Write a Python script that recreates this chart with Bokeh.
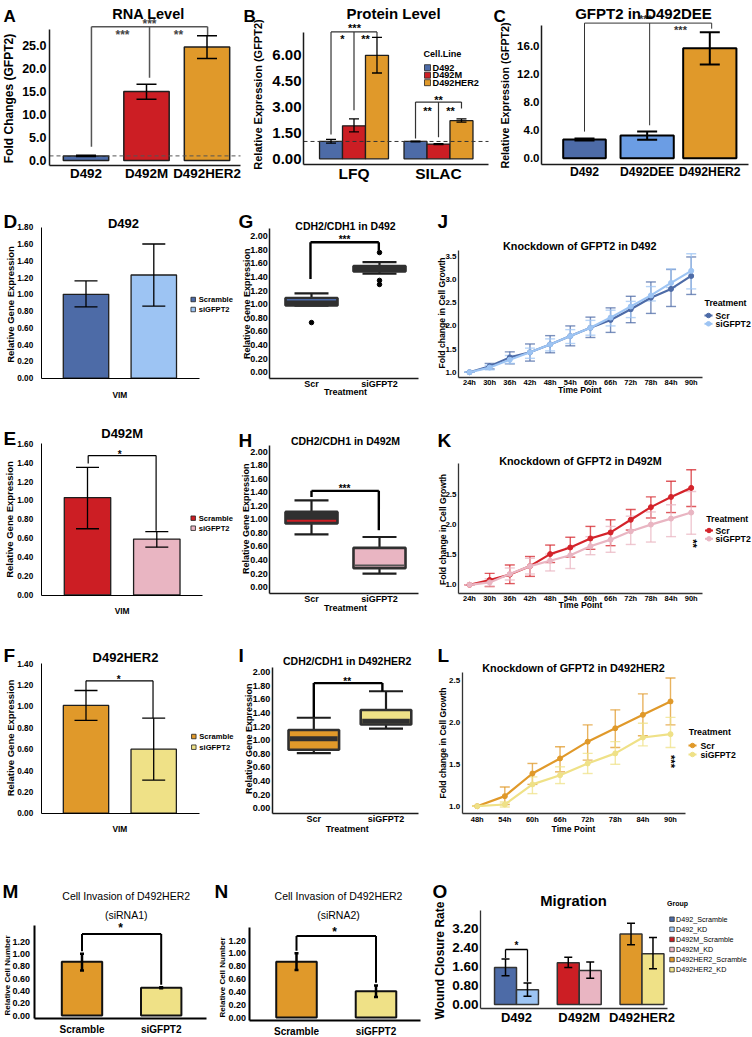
import math
from bokeh.plotting import figure
from bokeh.models import (Range1d, FixedTicker, PrintfTickFormatter, Label, Whisker,
                          TeeHead, ColumnDataSource)
from bokeh.layouts import row, column
from bokeh.embed import file_html
from bokeh.resources import INLINE

# ======================= DATA =======================
# A: RNA level
rna_cells = ["D492", "D492M", "D492HER2"]
rna_mean = [1.0, 15.0, 24.7]
rna_low = [0.85, 13.3, 22.2]
rna_high = [1.15, 16.6, 27.1]
rna_ticks = [0, 5, 10, 15, 20, 25]

# B: protein level
prot_methods = ["LFQ", "SILAC"]
prot_lines = ["D492", "D492M", "D492HER2"]
prot_d492 = [1.0, 1.0]
prot_d492_low = [0.9, 0.98]
prot_d492_high = [1.12, 1.02]
prot_m = [1.9, 0.85]
prot_m_low = [1.55, 0.82]
prot_m_high = [2.3, 0.88]
prot_her2 = [5.97, 2.2]
prot_her2_low = [4.95, 2.12]
prot_her2_high = [7.0, 2.3]
prot_ticks = [0, 1.5, 3.0, 4.5, 6.0]

# C: GFPT2 in D492DEE
dee_cells = ["D492", "D492DEE", "D492HER2"]
dee_mean = [2.67, 3.25, 15.7]
dee_low = [2.52, 2.65, 13.4]
dee_high = [2.82, 3.8, 18.0]
dee_ticks = [0, 4, 8, 12, 16]

# D/E/F: VIM expression
vim_groups = ["Scramble", "siGFPT2"]
vim_d492 = [1.0, 1.23]
vim_d492_low = [0.85, 0.86]
vim_d492_high = [1.16, 1.6]
vim_m = [1.03, 0.59]
vim_m_low = [0.7, 0.505]
vim_m_high = [1.35, 0.67]
vim_her2 = [1.01, 0.6]
vim_her2_low = [0.87, 0.31]
vim_her2_high = [1.15, 0.89]
vim_ticks_d = [0, 0.2, 0.4, 0.6, 0.8, 1.0, 1.2, 1.4, 1.6, 1.8]
vim_ticks_e = [0, 0.2, 0.4, 0.6, 0.8, 1.0, 1.2, 1.4, 1.6]
vim_ticks_f = [0, 0.2, 0.4, 0.6, 0.8, 1.0, 1.2, 1.4]

# G/H/I: CDH2/CDH1 box plots  (lower whisker, q1, median, q3, upper whisker)
box_treat = ["Scr", "siGFPT2"]
g_scr = [0.98, 0.98, 1.065, 1.09, 1.16]
g_si = [1.45, 1.48, 1.52, 1.56, 1.62]
g_out_grp = ["Scr", "siGFPT2", "siGFPT2", "siGFPT2"]
g_out_val = [0.73, 1.76, 1.35, 1.29]
h_scr = [0.78, 0.94, 0.98, 1.11, 1.28]
h_si = [0.2, 0.28, 0.32, 0.58, 0.74]
i_scr = [0.81, 0.86, 1.02, 1.15, 1.33]
i_si = [1.17, 1.23, 1.28, 1.445, 1.72]
box_ticks = [0, 0.2, 0.4, 0.6, 0.8, 1.0, 1.2, 1.4, 1.6, 1.8, 2.0]

# J/K/L: growth curves
time_12 = ["24h", "30h", "36h", "42h", "48h", "54h", "60h", "66h", "72h", "78h", "84h", "90h"]
j_scr = [1.0, 1.13, 1.32, 1.43, 1.6, 1.78, 1.96, 2.13, 2.36, 2.61, 2.8, 3.08]
j_scr_low = [1.0, 1.07, 1.18, 1.24, 1.42, 1.57, 1.75, 1.86, 2.07, 2.27, 2.42, 2.68]
j_scr_high = [1.0, 1.19, 1.44, 1.61, 1.79, 2.0, 2.19, 2.39, 2.64, 2.95, 3.22, 3.49]
j_si = [1.0, 1.1, 1.27, 1.43, 1.6, 1.78, 1.96, 2.18, 2.42, 2.66, 2.93, 3.19]
j_si_low = [1.0, 1.05, 1.19, 1.3, 1.46, 1.62, 1.8, 2.0, 2.18, 2.54, 2.83, 2.8]
j_si_high = [1.0, 1.15, 1.36, 1.52, 1.72, 1.92, 2.12, 2.34, 2.53, 2.85, 3.23, 3.56]
j_ticks = [1.0, 1.5, 2.0, 2.5, 3.0, 3.5]

k_scr = [1.0, 1.08, 1.17, 1.31, 1.51, 1.62, 1.77, 1.87, 2.08, 2.29, 2.46, 2.61]
k_scr_low = [1.0, 0.97, 1.02, 1.14, 1.37, 1.46, 1.59, 1.65, 1.91, 2.11, 2.2, 2.3]
k_scr_high = [1.0, 1.19, 1.33, 1.47, 1.66, 1.79, 1.97, 2.08, 2.25, 2.46, 2.72, 2.91]
k_si = [1.0, 1.04, 1.18, 1.31, 1.4, 1.49, 1.64, 1.75, 1.89, 2.0, 2.1, 2.2]
k_si_low = [1.0, 0.98, 1.08, 1.18, 1.23, 1.27, 1.5, 1.54, 1.67, 1.71, 1.8, 1.84]
k_si_high = [1.0, 1.1, 1.28, 1.44, 1.51, 1.62, 1.8, 1.97, 2.14, 2.21, 2.33, 2.55]
k_ticks = [1.0, 1.5, 2.0, 2.5]

time_8 = ["48h", "54h", "60h", "66h", "72h", "78h", "84h", "90h"]
l_scr = [1.0, 1.12, 1.39, 1.57, 1.77, 1.93, 2.09, 2.25]
l_scr_low = [1.0, 1.02, 1.26, 1.41, 1.55, 1.7, 1.84, 1.97]
l_scr_high = [1.0, 1.23, 1.51, 1.71, 1.97, 2.15, 2.34, 2.53]
l_si = [1.0, 1.02, 1.26, 1.37, 1.51, 1.63, 1.82, 1.86]
l_si_low = [1.0, 0.99, 1.15, 1.27, 1.39, 1.5, 1.72, 1.7]
l_si_high = [1.0, 1.05, 1.35, 1.47, 1.63, 1.77, 1.99, 2.06]
l_ticks = [1.0, 1.5, 2.0, 2.5]

# M/N: invasion
inv_groups = ["Scramble", "siGFPT2"]
inv1 = [0.87, 0.45]
inv1_low = [0.73, 0.44]
inv1_high = [1.0, 0.46]
inv2 = [0.87, 0.41]
inv2_low = [0.74, 0.32]
inv2_high = [1.0, 0.5]
inv_ticks = [0, 0.2, 0.4, 0.6, 0.8, 1.0, 1.2]

# O: migration
mig_cells = ["D492", "D492M", "D492HER2"]
mig_labels = ["D492_Scramble", "D492_KD", "D492M_Scramble", "D492M_KD",
              "D492HER2_Scramble", "D492HER2_KD"]
mig_scr = [1.55, 1.75, 2.95]
mig_scr_low = [1.2, 1.55, 2.5]
mig_scr_high = [1.9, 1.98, 3.4]
mig_kd = [0.62, 1.42, 2.12]
mig_kd_low = [0.35, 1.1, 1.5]
mig_kd_high = [0.9, 1.78, 2.8]
mig_ticks = [0, 0.8, 1.6, 2.4, 3.2]

# ======================= STYLE =======================
BLUE = "#4D6BA7"
RED = "#CC1E24"
ORANGE = "#E0992A"
LBLUE_C = "#6B9DE4"
LBLUE = "#9DC4F3"
PINK = "#E9B5C2"
YELLOW = "#EFE187"
DARK = "#1E1E1E"
BOXDARK = "#303030"

FONT = "Liberation Sans"
PI2 = math.pi / 2


def fs(v):
    return f"{v:.2f}px"


class Panel:
    """One cell of the figure.  The plotting frame covers the whole cell; the
    axes are pinned (fixed_location + bounds) to the inner plotting area."""

    def __init__(self, box, frame, xa, ya):
        bx0, by0, bx1, by1 = box
        self.fl, self.ft, self.fr, self.fb = frame
        self.px0, self.py0, self.px1, self.py1 = box
        self.xa, self.ya = xa, ya
        p = figure(width=bx1 - bx0, height=by1 - by0,
                   x_range=Range1d(self.dx(bx0), self.dx(bx1)),
                   y_range=Range1d(self.dy(by1), self.dy(by0)),
                   min_border=0, output_backend="svg", toolbar_location=None)
        p.outline_line_color = None
        p.grid.visible = False
        p.border_fill_color = "white"
        p.background_fill_color = "white"
        self.p = p

    def dx(self, px):
        p0, v0, p1, v1 = self.xa
        return v0 + (px - p0) * (v1 - v0) / (p1 - p0)

    def dy(self, py):
        p0, v0, p1, v1 = self.ya
        return v0 + (py - p0) * (v1 - v0) / (p1 - p0)

    def text(self, x, y, s, size, bold=True, align="center", baseline="middle", angle=0.0,
             color="black", font=FONT):
        lab = Label(x=x - self.px0, y=self.py1 - y, x_units="screen", y_units="screen",
                    text=s, text_font=font, text_font_size=fs(size),
                    text_font_style="bold" if bold else "normal", text_align=align,
                    text_baseline=baseline, angle=angle, text_color=color)
        self.p.add_layout(lab)

    def star(self, x, y, s, size, color="black", angle=0.0):
        # (x, y) is the visual centre of the asterisks
        if angle == 0.0:
            self.text(x, y + 0.2 * size, s, size, bold=True, baseline="alphabetic", color=color)
        else:
            self.text(x + 0.05 * size, y, s, size, bold=True, angle=angle, color=color)

    def axes(self, xticks, xlabels, yticks, yfmt, ysize, xsize, lw=1.5, lc="#1a1a1a",
             ystand=2, xstand=0, font=FONT, xbold=True, ybold=True):
        p = self.p
        p.xaxis.ticker = FixedTicker(ticks=list(xticks))
        p.xaxis.major_label_overrides = {t: l for t, l in zip(xticks, xlabels)}
        p.yaxis.ticker = FixedTicker(ticks=list(yticks))
        p.yaxis.formatter = PrintfTickFormatter(format=yfmt)
        p.xaxis.fixed_location = self.dy(self.fb)
        p.xaxis.bounds = (self.dx(self.fl), self.dx(self.fr))
        p.yaxis.fixed_location = self.dx(self.fl)
        p.yaxis.bounds = (self.dy(self.fb), self.dy(self.ft))
        for ax in (p.xaxis[0], p.yaxis[0]):
            ax.axis_line_color = lc
            ax.axis_line_width = lw
            ax.major_tick_in = 0
            ax.major_tick_out = 0
            ax.major_tick_line_color = None
            ax.minor_tick_line_color = None
            ax.major_label_text_font = font
            ax.major_label_text_color = "black"
        p.xaxis.major_label_text_font_size = fs(xsize)
        p.yaxis.major_label_text_font_size = fs(ysize)
        p.xaxis.major_label_text_font_style = "bold" if xbold else "normal"
        p.yaxis.major_label_text_font_style = "bold" if ybold else "normal"
        p.xaxis.major_label_standoff = round(xstand)
        p.yaxis.major_label_standoff = round(ystand)

    def hline(self, value, color, dash, lw=1.0):
        self.p.line(x=[self.dx(self.fl), self.dx(self.fr)], y=[value, value], line_color=color,
                    line_dash=dash, line_width=lw)

    def err(self, xs, lo, hi, color="black", lw=1.5, cap=20, alpha=1.0, level="annotation"):
        src = ColumnDataSource(dict(x=list(xs), lo=list(lo), hi=list(hi)))
        w = Whisker(source=src, base="x", lower="lo", upper="hi", line_color=color,
                    line_width=lw, line_alpha=alpha, level=level,
                    lower_head=TeeHead(size=cap, line_color=color, line_width=lw, line_alpha=alpha),
                    upper_head=TeeHead(size=cap, line_color=color, line_width=lw, line_alpha=alpha))
        self.p.add_layout(w)

    def comb(self, xs, bottoms, top, color="black", lw=1.5):
        xl = [[min(xs), max(xs)]] + [[x, x] for x in xs]
        yl = [[top, top]] + [[b, top] for b in bottoms]
        self.p.multi_line(xs=xl, ys=yl, line_color=color, line_width=lw)

    def key_square(self, x, y, size, fill, label, lx, tsize, bold=True, line="#222222"):
        self.p.scatter(x=[self.dx(x)], y=[self.dy(y)], marker="square", size=size,
                       fill_color=fill, line_color=line, line_width=0.8)
        self.text(lx, y, label, tsize, bold=bold, align="left")

    def key_dot(self, x, y, color, label, lx, tsize):
        self.p.line(x=[self.dx(x - 4), self.dx(x + 4)], y=[self.dy(y), self.dy(y)],
                    line_color=color, line_width=2)
        self.p.scatter(x=[self.dx(x)], y=[self.dy(y)], size=4.5, color=color)
        self.text(lx, y, label, tsize, bold=True, align="left")


# ======================= PANEL A =======================
A = Panel((0, 0, 243, 195), (49, 29, 240, 165), (85.5, 1, 206.5, 3), (160, 0, 45, 25))
pa = A.p
pos3 = [1, 2, 3]
pa.vbar(x="x", top="top", bottom=0, width=0.75, fill_color="c", line_color=DARK, line_width=1.5,
        source=ColumnDataSource(dict(x=pos3, top=rna_mean, c=[BLUE, RED, ORANGE])))
A.hline(1.0, "#555555", "4 3")
A.err(pos3, rna_low, rna_high, cap=20)
A.comb([1.09, 2.05, 3.01], [3.0, 18.0, 27.2], 29.1, color="#555555", lw=1.5)
A.star(149, 21.5, "***", 12, color="#444444")
A.star(122, 32, "***", 12, color="#444444")
A.star(178, 32, "**", 12, color="#444444")
A.axes(pos3, rna_cells, rna_ticks, "%.1f", 12.5, 13.4, ystand=3)
A.text(3, 15.5, "A", 17, align="left", baseline="alphabetic")
A.text(148, 13, "RNA Level", 14.5, baseline="alphabetic")
A.text(8.5, 98, "Fold Changes (GFPT2)", 12, angle=PI2)

# ======================= PANEL B =======================
Bp = Panel((243, 0, 491, 195), (303, 32, 488, 164), (353.5, 1, 438, 2), (158.3, 0, 54.3, 6))
pb = Bp.p
pos2 = [1, 2]
off = [-0.272, 0.0, 0.272]
for i, (vals, lo, hi, col) in enumerate([(prot_d492, prot_d492_low, prot_d492_high, BLUE),
                                          (prot_m, prot_m_low, prot_m_high, RED),
                                          (prot_her2, prot_her2_low, prot_her2_high, ORANGE)]):
    xs = [g + off[i] for g in pos2]
    pb.vbar(x=xs, top=vals, bottom=0, width=0.272, fill_color=col, line_color=DARK,
            line_width=1.3)
    Bp.err(xs, lo, hi, cap=10, lw=1.3)
Bp.hline(1.0, "#333333", "4 3")
Bp.comb([0.728, 1.0, 1.272], [1.4, 2.8, 7.03], 7.32, color="#333333", lw=1.2)
Bp.comb([1.728, 2.0, 2.272], [1.17, 1.25, 2.9], 3.27, color="#333333", lw=1.2)
Bp.star(354, 25.5, "***", 11)
Bp.star(342, 36, "*", 11)
Bp.star(365, 36, "**", 11)
Bp.star(438, 97.5, "**", 11)
Bp.star(427, 108, "**", 11)
Bp.star(450, 108, "**", 11)
Bp.axes(pos2, prot_methods, prot_ticks, "%.2f", 15, 15.5, ystand=2)
Bp.text(423, 53, "Cell.Line", 9.1, align="left")
for lab, col, yy in zip(prot_lines, [BLUE, RED, ORANGE], [67.2, 74.7, 82.2]):
    Bp.key_square(427, yy, 6, col, lab, 432, 9.2)
Bp.text(243, 15.5, "B", 17, align="left", baseline="alphabetic")
Bp.text(393, 13, "Protein Level", 15, baseline="alphabetic")
Bp.text(257.5, 94, "Relative Expression (GFPT2)", 11, angle=PI2)

# ======================= PANEL C =======================
C = Panel((491, 0, 752, 195), (541, 25, 748, 164), (584, 1, 709.3, 3), (157.7, 0, 45.7, 16))
pc = C.p
pc.vbar(x="x", top="top", bottom=0, width="w", fill_color="c", line_color="black", line_width=2,
        source=ColumnDataSource(dict(x=pos3, top=dee_mean, w=[0.68, 0.85, 0.85],
                                     c=[BLUE, LBLUE_C, ORANGE])))
C.err(pos3, dee_low, dee_high, cap=20, lw=2)
C.comb([1.0, 2.04, 3.03], [3.8, 4.7, 18.5], 19.3, color="#333333", lw=1)
C.star(645, 16.5, "***", 11, color="#333333")
C.star(680, 27.5, "***", 11, color="#333333")
C.axes(pos3, dee_cells, dee_ticks, "%.1f", 11.5, 12.2, ystand=2)
C.text(493, 15.5, "C", 17, align="left", baseline="alphabetic")
C.text(643, 12.7, "GFPT2 in D492DEE", 15, baseline="alphabetic")
C.text(504.7, 95, "Relative Expression (GFPT2)", 10.7, angle=PI2)


# ======================= D / E / F (VIM bar charts) =======================
def vim_panel(box, frame, xa, ya, vals, lo, hi, cols, ticks, letter, lby, title, tx, tby,
              ylx, yly, key_x, key_y, br=None):
    P = Panel(box, frame, xa, ya)
    p = P.p
    p.vbar(x="x", top="top", bottom=0, width=0.67, fill_color="c", line_color=DARK,
           line_width=1.3, source=ColumnDataSource(dict(x=pos2, top=vals, c=cols)))
    P.err(pos2, lo, hi, cap=23, lw=1.3)
    if br is not None:
        bxs, bbot, btop, sx_, sy_ = br
        P.comb(bxs, bbot, btop, color="black", lw=1.2)
        P.star(sx_, sy_, "*", 10)
    P.axes([1.5], ["VIM"], ticks, "%.2f", 8.2, 8.4, lw=1, lc="black", ystand=8, xstand=11)
    for g, c, yy in zip(vim_groups, cols, key_y):
        P.key_square(key_x, yy, 4.5, c, g, key_x + 5.5, 7.6)
    P.text(3, lby, letter, 19, align="left", baseline="alphabetic")
    P.text(tx, tby, title, 13, baseline="alphabetic")
    P.text(ylx, yly, "Relative Gene Expression", 9.5, angle=PI2)
    return P


D = vim_panel((0, 195, 236, 418), (40.7, 226.7, 199, 378), (85.5, 1, 153.3, 2), (377.7, 0, 226.7, 1.8),
              vim_d492, vim_d492_low, vim_d492_high, [BLUE, LBLUE], vim_ticks_d,
              "D", 221, "D492", 123, 222.7, 10, 304, 192.7, [299, 309])
E = vim_panel((0, 418, 236, 622), (40.7, 443.3, 201.7, 594.5), (87, 1, 156.3, 2), (594.3, 0, 443.3, 1.6),
              vim_m, vim_m_low, vim_m_high, [RED, PINK], vim_ticks_e,
              "E", 438, "D492M", 121.7, 433.3, 9, 519, 192.7, [517.7, 527.7],
              br=([1.01, 1.99], [1.39, 0.68], 1.475, 119.3, 451.5))
F = vim_panel((0, 622, 236, 840), (40.7, 663.3, 199, 812.7), (85.5, 1, 153.2, 2), (812.7, 0, 663.3, 1.4),
              vim_her2, vim_her2_low, vim_her2_high, [ORANGE, YELLOW], vim_ticks_f,
              "F", 655, "D492HER2", 125, 656.7, 10, 737.5, 193.3, [736, 746.7],
              br=([1.0, 1.99], [1.15, 0.89], 1.24, 118.3, 676.5))


# ======================= G / H / I (box plots) =======================
def box_panel(box, frame, xa, ya, stats, fills, edge, meds, medw, width, letter, lby, title, tx, tby,
              ylx, yly, treat_y, br, star_xy, star_s, out=None):
    P = Panel(box, frame, xa, ya)
    p = P.p
    lw_, q1, med, q3, uw = [list(v) for v in zip(*stats)]
    P.err(pos2, lw_, uw, color=DARK, lw=2.2, cap=34, level="underlay")
    p.vbar(x=pos2, bottom=q1, top=q3, width=width, fill_color=fills, line_color=edge,
           line_width=2.6)
    p.segment(x0=[x - width / 2 + 0.02 for x in pos2], x1=[x + width / 2 - 0.02 for x in pos2],
              y0=med, y1=med, line_color=meds, line_width=medw)
    if out is not None:
        ox = [pos2[box_treat.index(g)] for g in out[0]]
        p.scatter(x=ox, y=out[1], size=4.5, color="black")
    bxs, bbot, btop = br
    P.comb(bxs, bbot, btop, color="black", lw=2.4)
    P.star(star_xy[0], star_xy[1], star_s, 10)
    P.axes(pos2, box_treat, box_ticks, "%.2f", 9, 9, lw=1.5, ystand=2, xstand=0)
    P.text(box[0] + 2, lby, letter, 19, align="left", baseline="alphabetic")
    P.text(tx, tby, title, 10.5, baseline="alphabetic")
    P.text(ylx, yly, "Relative Gene Expression", 9, angle=PI2)
    P.text(tx, treat_y, "Treatment", 9)
    return P


G = box_panel((236, 195, 434, 418), (269.3, 228, 418, 378), (311, 1, 379, 2), (371.7, 0, 235.7, 2.0),
              [g_scr, g_si], [BOXDARK, BOXDARK], BOXDARK, [BLUE, BOXDARK], 1.5, 0.765,
              "G", 221, "CDH2/CDH1 in D492", 345, 225, 246.3, 303.3, 391.7,
              ([0.985, 1.99], [1.37, 1.79], 1.91), (344, 236.5), "***",
              out=(g_out_grp, g_out_val))
H = box_panel((236, 418, 434, 622), (269.3, 445, 418, 593.3), (311, 1, 379, 2), (586.7, 0, 451, 2.0),
              [h_scr, h_si], [BOXDARK, PINK], BOXDARK, [RED, "#555555"], 2.0, 0.765,
              "H", 440, "CDH2/CDH1 in D492M", 345, 440, 245.5, 518.3, 607.3,
              ([1.0, 1.99], [1.33, 0.84], 1.42), (344, 485.5), "***")
I = box_panel((236, 622, 434, 840), (271.7, 666.7, 418, 813.3), (313.3, 1, 385.5, 2), (807.7, 0, 671.7, 2.0),
              [i_scr, i_si], [ORANGE, YELLOW], BOXDARK, [BOXDARK, BOXDARK], 5.0, 0.7,
              "I", 655, "CDH2/CDH1 in D492HER2", 346.7, 660.7, 248.8, 738.3, 828,
              ([1.0, 1.95], [1.34, 1.72], 1.84), (346.7, 678.5), "**")


# ======================= J / K / L (growth curves) =======================
def growth_panel(box, frame, xa, ya, times, scr, scr_lo, scr_hi, si, si_lo, si_hi, cols, ticks,
                 letter, lby, title, tx, tby, ylx, yly, tp_y, key, stars=None):
    P = Panel(box, frame, xa, ya)
    p = P.p
    xs = list(range(1, len(times) + 1))
    P.err(xs, scr_lo, scr_hi, color=cols[0], lw=1.4, cap=10, alpha=0.75, level="underlay")
    P.err(xs, si_lo, si_hi, color=cols[1], lw=1.4, cap=10, alpha=0.75, level="underlay")
    p.line(xs, scr, line_color=cols[0], line_width=2.2)
    p.scatter(xs, scr, size=5, color=cols[0])
    p.line(xs, si, line_color=cols[1], line_width=2.2)
    p.scatter(xs, si, size=5, color=cols[1])
    if stars is not None:
        P.star(stars[0], stars[1], stars[2], 11, angle=-PI2)
    P.axes(xs, times, ticks, "%.1f", 8, 7.5, lw=1.3, lc="#333333", ystand=2, xstand=1)
    tl, ty, dxk, y1, y2, lx = key
    P.text(tl, ty, "Treatment", 8.8, align="left")
    P.key_dot(dxk, y1, cols[0], "Scr", lx, 8.7)
    P.key_dot(dxk, y2, cols[1], "siGFPT2", lx, 8.7)
    P.text(437, lby, letter, 19, align="left", baseline="alphabetic")
    P.text(tx, tby, title, 10.8, baseline="alphabetic")
    P.text(ylx, yly, "Fold change in Cell Growth", 8.6, angle=PI2)
    P.text(tx, tp_y, "Time Point", 8.6)
    return P


J = growth_panel((434, 195, 752, 418), (458, 250, 701.7, 376.7), (469, 1, 690.7, 12), (371.7, 1.0, 256, 3.5),
                 time_12, j_scr, j_scr_low, j_scr_high, j_si, j_si_low, j_si_high, [BLUE, LBLUE],
                 j_ticks, "J", 221, "Knockdown of GFPT2 in D492", 579.3, 245, 441.7, 312.5, 389.3,
                 (704, 302.7, 708, 315, 323.3, 715))
K = growth_panel((434, 418, 752, 622), (458, 463.3, 701.7, 592.7), (469, 1, 690.7, 12), (584.3, 1.0, 494, 2.5),
                 time_12, k_scr, k_scr_low, k_scr_high, k_si, k_si_low, k_si_high, ["#D4232A", PINK],
                 k_ticks, "K", 440, "Knockdown of GFPT2 in D492M", 580, 460, 442, 529, 604.3,
                 (705.7, 518.3, 708.5, 530, 538.3, 715), stars=(691.7, 543, "**"))
Lp = growth_panel((434, 622, 752, 840), (461.7, 671.7, 685, 813.3), (476.7, 1, 670, 8), (805.7, 1.0, 680, 2.5),
                  time_8, l_scr, l_scr_low, l_scr_high, l_si, l_si_low, l_si_high, [ORANGE, YELLOW],
                  l_ticks, "L", 655, "Knockdown of GFPT2 in D492HER2", 573, 667.7, 442.5, 742.5, 828,
                  (688.3, 731.7, 692, 745, 754, 700), stars=(670, 761, "***"))


# ======================= M / N (invasion) =======================
def inv_panel(box, frame, xa, ya, vals, lo, hi, letter, title2, tx, ylx, yly, btop, sx_, sy_):
    P = Panel(box, frame, xa, ya)
    p = P.p
    p.vbar(x=pos2, top=vals, bottom=0, width=0.51, fill_color=[ORANGE, YELLOW], line_color="#111111",
           line_width=2)
    P.err(pos2, lo, hi, cap=4, lw=2.5)
    P.comb([1.0, 2.0], [hi[0] + 0.04, hi[1] + 0.04], btop, color="black", lw=2)
    P.star(sx_, sy_, "*", 12)
    P.axes(pos2, inv_groups, inv_ticks, "%.2f", 9, 10, lw=2, lc="black", ystand=4, xstand=5)
    P.text(box[0] + 2, 891, letter, 19, align="left", baseline="alphabetic")
    P.text(tx, 895, "Cell Invasion of D492HER2", 10.5, bold=False)
    P.text(tx, 914, title2, 10.5, bold=False)
    P.text(ylx, yly, "Relative Cell Number", 8, angle=PI2)
    return P


M = inv_panel((0, 840, 212, 1037), (33.6, 925, 206, 1018), (81.5, 1, 160.7, 2), (1015, 0, 941, 1.2),
              inv1, inv1_low, inv1_high, "M", "(siRNA1)", 125.7, 6.5, 975, 1.32, 120, 925.5)
N = inv_panel((212, 840, 430, 1037), (249.4, 927, 420, 1020), (296, 1, 375.5, 2), (1017, 0, 940, 1.2),
              inv2, inv2_low, inv2_high, "N", "(siRNA2)", 338, 222, 977, 1.27, 334, 929.5)

# ======================= O (migration) =======================
O = Panel((430, 840, 752, 1037), (480, 910, 667, 1008), (516, 1, 641.5, 3), (1004, 0, 927.5, 3.2))
po = O.p
bw = 0.35
xs_scr = [g - bw / 2 for g in pos3]
xs_kd = [g + bw / 2 for g in pos3]
mx, mtop = [], []
for i in range(3):
    mx += [xs_scr[i], xs_kd[i]]
    mtop += [mig_scr[i], mig_kd[i]]
mcol = [BLUE, LBLUE, RED, PINK, ORANGE, YELLOW]
po.vbar(x="x", top="top", bottom=0, width=bw, fill_color="c", line_color="#333333", line_width=1.5,
        source=ColumnDataSource(dict(x=mx, top=mtop, c=mcol)))
O.err(xs_scr, mig_scr_low, mig_scr_high, cap=8, lw=1.5)
O.err(xs_kd, mig_kd_low, mig_kd_high, cap=8, lw=1.5)
O.comb([xs_scr[0], xs_kd[0]], [1.95, 0.95], 2.3, color="black", lw=1.3)
O.star(516, 942.5, "*", 10)
O.axes(pos3, mig_cells, mig_ticks, "%.2f", 13.5, 13, lw=1.3, lc="#333333", ystand=2, xstand=1)
O.text(666.5, 903, "Group", 7, align="left")
for i, (lab, c) in enumerate(zip(mig_labels, mcol)):
    O.key_square(671.5, 918.7 + 10.1 * i, 4.5, c, lab, 675.5, 7.2, bold=False, line="#333333")
O.text(432, 891, "O", 19, align="left", baseline="alphabetic")
O.text(573, 900, "Migration", 14.8, baseline="alphabetic")
O.text(439, 960, "Wound Closure Rate", 12, angle=PI2)

# ======================= LAYOUT =======================
layout = column(
    row(A.p, Bp.p, C.p),
    row(D.p, G.p, J.p),
    row(E.p, H.p, K.p),
    row(F.p, I.p, Lp.p),
    row(M.p, N.p, O.p),
)

with open("out.html", "w") as f:
    f.write(file_html(layout, INLINE))
